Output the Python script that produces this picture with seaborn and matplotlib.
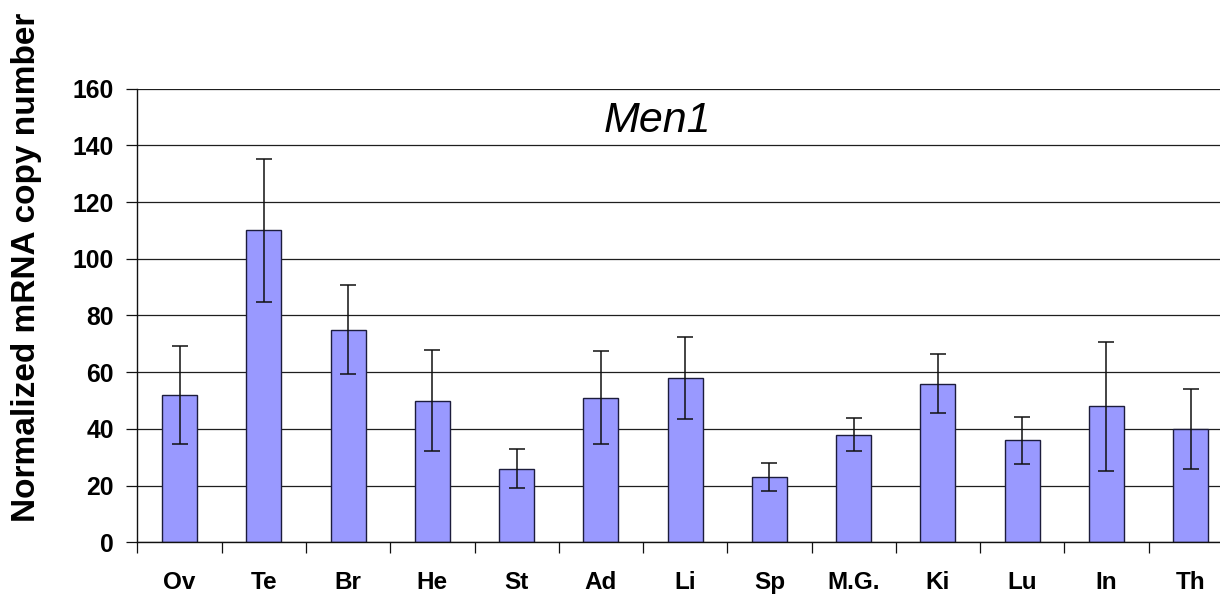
import matplotlib
matplotlib.use("Agg")
import matplotlib.pyplot as plt
from matplotlib.ticker import FixedLocator
import seaborn as sns
import pandas as pd
import numpy as np

# Tissues and normalized Men1 mRNA copy numbers (mean and error)
tissues = ["Ov", "Te", "Br", "He", "St", "Ad", "Li", "Sp", "M.G.", "Ki", "Lu", "In", "Th"]
means = [52, 110, 75, 50, 26, 51, 58, 23, 38, 56, 36, 48, 40]
errors = [17.4, 25.3, 15.7, 17.7, 6.9, 16.5, 14.5, 4.9, 5.7, 10.5, 8.3, 22.8, 14.0]
y_ticks = [0, 20, 40, 60, 80, 100, 120, 140, 160]

sns.set_theme(style="white")
plt.rcParams["font.family"] = ["Liberation Sans", "DejaVu Sans"]

df = pd.DataFrame({"tissue": tissues, "copies": means})

fig = plt.figure(figsize=(12.2, 5.95), dpi=100)
ax = fig.add_axes([0.1127, 0.0886, 0.8978, 0.7624])

ax.yaxis.grid(True, color="#1e1e1e", linewidth=0.9)
ax.set_axisbelow(True)

sns.barplot(data=df, x="tissue", y="copies", color="#9999ff", saturation=1,
            width=0.415, edgecolor="#1c1c3c", linewidth=1.0, errorbar=None, ax=ax)

ax.errorbar(np.arange(len(tissues)), means, yerr=errors, fmt="none",
            ecolor="#111111", elinewidth=1.1, capsize=6, capthick=1.1, zorder=5)

ax.set_xlim(-0.5, len(tissues) - 0.5)
ax.set_ylim(0, 160)
ax.set_yticks(y_ticks)

for side in ("top", "right"):
    ax.spines[side].set_visible(False)
for side in ("left", "bottom"):
    ax.spines[side].set_color("#111111")
    ax.spines[side].set_linewidth(1.0)

# Ticks between categories on x, outward ticks on y
ax.xaxis.set_minor_locator(FixedLocator(np.arange(-0.5, len(tissues), 1.0)))
ax.tick_params(axis="x", which="major", length=0, pad=20.5, labelsize=17.5)
ax.tick_params(axis="x", which="minor", direction="out", length=8, width=0.9,
               color="#111111", bottom=True)
ax.tick_params(axis="y", direction="out", length=8, width=0.9, color="#111111",
               left=True, pad=9, labelsize=17.8)
for lab in ax.get_xticklabels() + ax.get_yticklabels():
    lab.set_fontweight("bold")
    lab.set_color("black")

ax.set_xlabel("")
ax.set_ylabel("")
fig.text(0.0215, 0.551, "Normalized mRNA copy number", rotation=90, ha="center",
         va="center", fontsize=24, fontweight="bold", color="black")

ax.text(0.475, 0.905, "Men1", transform=ax.transAxes, ha="center", va="baseline",
        fontsize=31, fontstyle="italic", color="black")

fig.savefig("out.png", dpi=100)
